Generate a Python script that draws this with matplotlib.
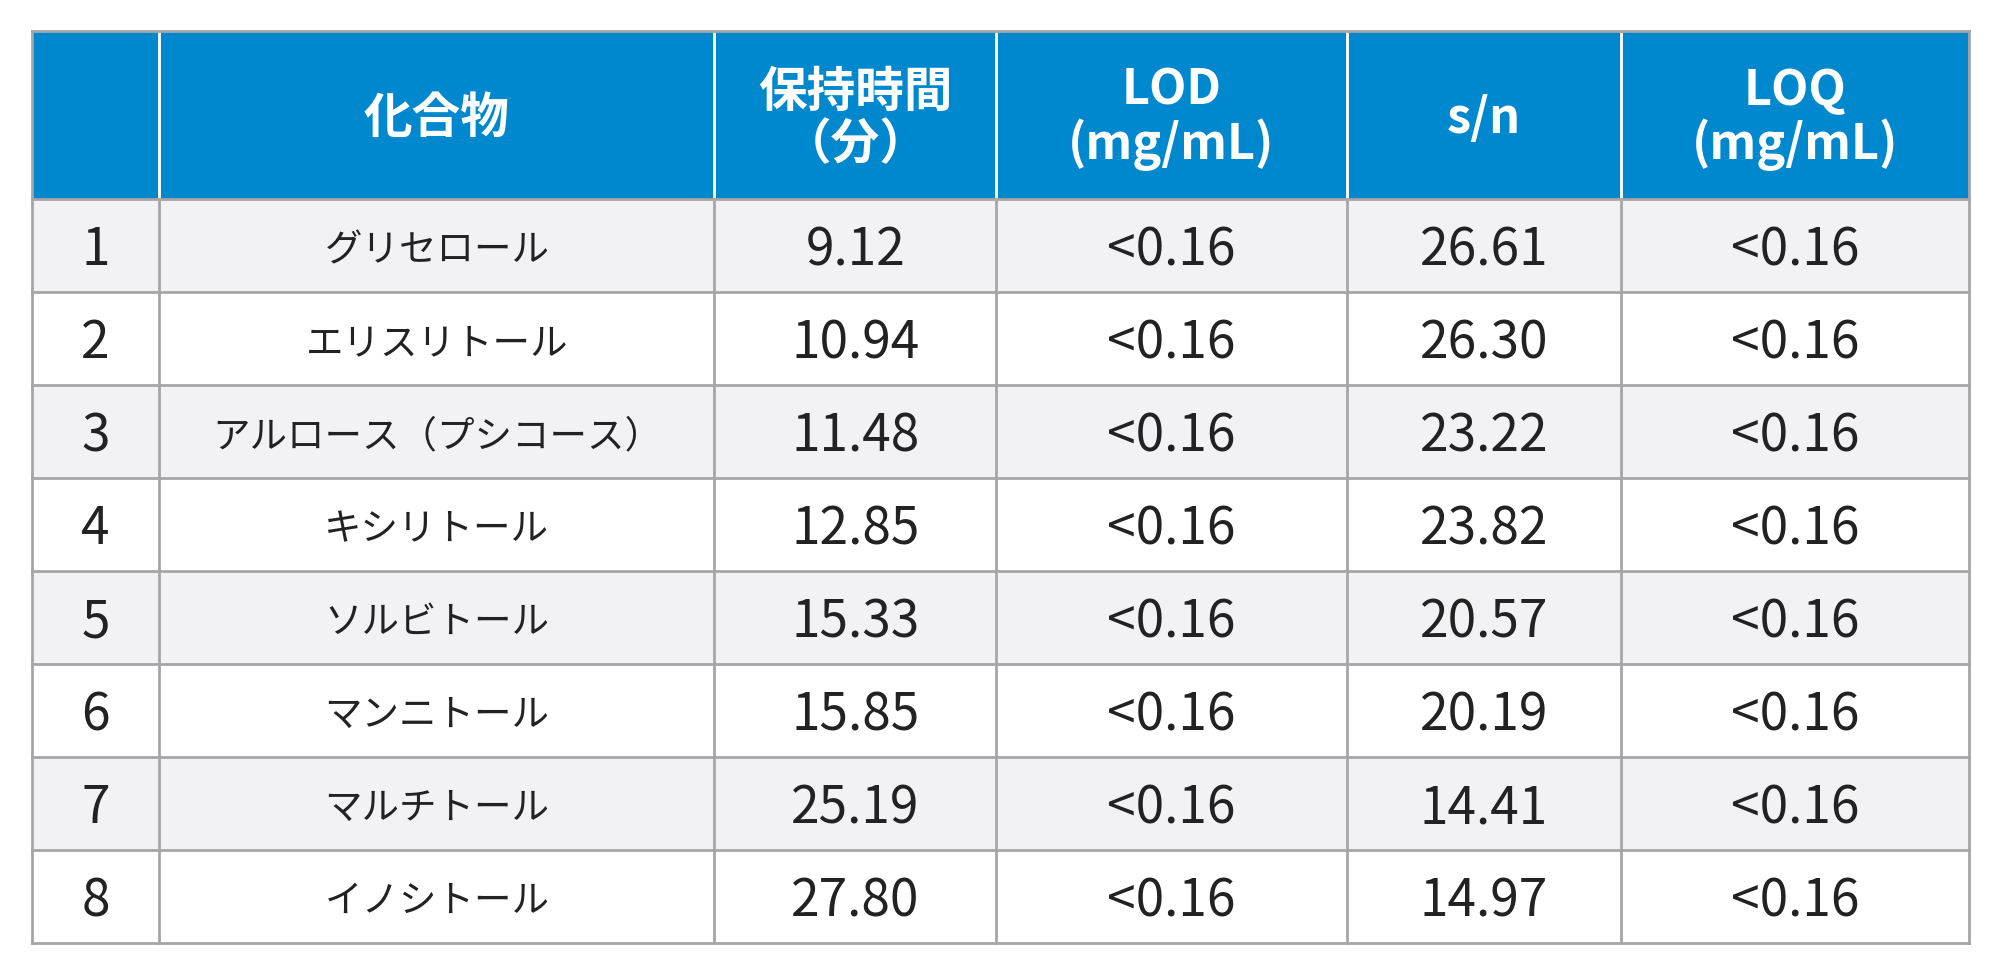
import matplotlib
matplotlib.use("Agg")
import matplotlib.pyplot as plt
from matplotlib.patches import Rectangle

headers = ["", "化合物", "保持時間\n（分）", "LOD\n(mg/mL)", "s/n", "LOQ\n(mg/mL)"]
nums = ["1", "2", "3", "4", "5", "6", "7", "8"]
compounds = ["グリセロール", "エリスリトール", "アルロース（プシコース）", "キシリトール",
             "ソルビトール", "マンニトール", "マルチトール", "イノシトール"]
rt = ["9.12", "10.94", "11.48", "12.85", "15.33", "15.85", "25.19", "27.80"]
lod = ["<0.16"] * 8
sn = ["26.61", "26.30", "23.22", "23.82", "20.57", "20.19", "14.41", "14.97"]
loq = ["<0.16"] * 8

W, H = 1568, 767.5
colx = [25, 125, 560, 781, 1056, 1271, 1544]
top, hdr_bot, bot = 25, 157, 740
rh = (bot - hdr_bot) / 8

fig = plt.figure(figsize=(20, 9.79), dpi=100)
ax = fig.add_axes([0, 0, 1, 1])
ax.set_xlim(0, W); ax.set_ylim(H, 0); ax.axis("off")
jp = "Noto Sans CJK JP"
blue = "#0088CE"
gc = "#A6A6A6"
ax.add_patch(Rectangle((colx[0], top), colx[-1]-colx[0], hdr_bot-top, color=blue, lw=0))
for i in range(8):
    y = hdr_bot + i*rh
    ax.add_patch(Rectangle((colx[0], y), colx[-1]-colx[0], rh,
                           color="#F2F2F4" if i % 2 == 0 else "white", lw=0))
for x in colx:
    ax.plot([x, x], [top, bot], color=gc, lw=2)
for x in colx[1:-1]:
    ax.plot([x, x], [top, hdr_bot], color="white", lw=2)
for i in range(9):
    y = hdr_bot + i*rh
    ax.plot([colx[0], colx[-1]], [y, y], color=gc, lw=2)
ax.plot([colx[0], colx[-1]], [top, top], color=gc, lw=2)

for j, h in enumerate(headers):
    cx = (colx[j]+colx[j+1])/2
    ax.text(cx, (top+hdr_bot)/2 + 2, h, ha="center", va="center", color="white",
            fontsize=35, fontweight="bold", family=jp, linespacing=1.1)
cols = [nums, compounds, rt, lod, sn, loq]
for j, col in enumerate(cols):
    cx = (colx[j]+colx[j+1])/2
    for i, v in enumerate(col):
        y = hdr_bot + (i+0.5)*rh + 3
        ax.text(cx, y, v, ha="center", va="center", color="#222222",
                fontsize=27 if j == 1 else 37, family=jp)
fig.savefig("out.png", dpi=100)
